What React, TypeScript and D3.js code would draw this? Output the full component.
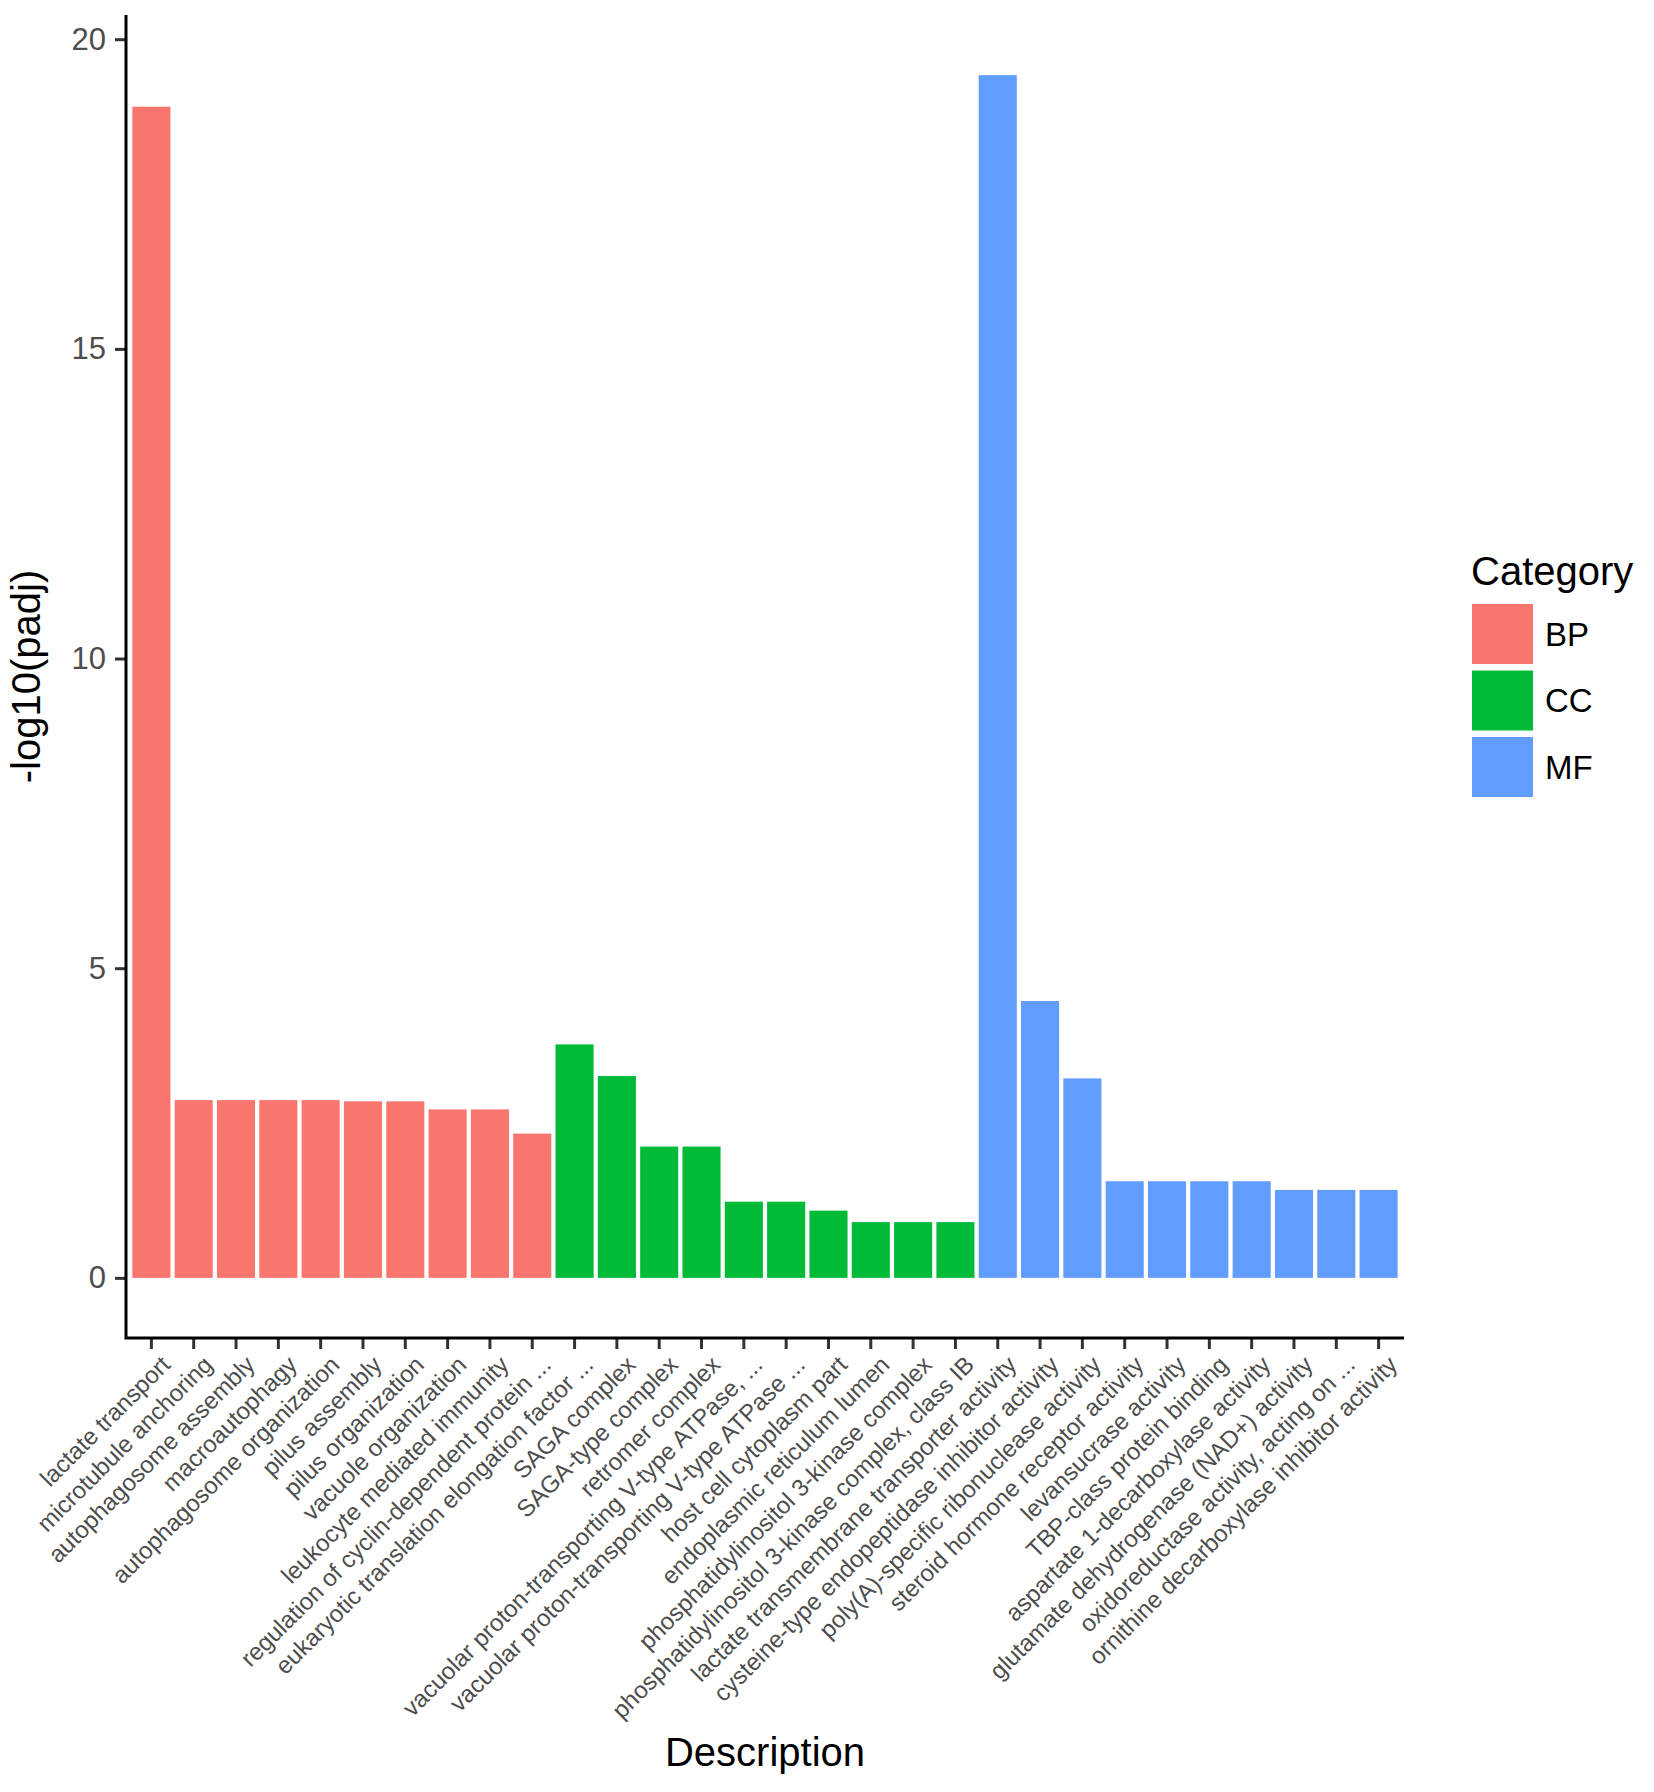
import React, { useRef, useEffect } from 'react';
import * as d3 from 'd3';

const descriptions = [
  'lactate transport',
  'microtubule anchoring',
  'autophagosome assembly',
  'macroautophagy',
  'autophagosome organization',
  'pilus assembly',
  'pilus organization',
  'vacuole organization',
  'leukocyte mediated immunity',
  'regulation of cyclin-dependent protein ...',
  'eukaryotic translation elongation factor ...',
  'SAGA complex',
  'SAGA-type complex',
  'retromer complex',
  'vacuolar proton-transporting V-type ATPase, ...',
  'vacuolar proton-transporting V-type ATPase ...',
  'host cell cytoplasm part',
  'endoplasmic reticulum lumen',
  'phosphatidylinositol 3-kinase complex',
  'phosphatidylinositol 3-kinase complex, class IB',
  'lactate transmembrane transporter activity',
  'cysteine-type endopeptidase inhibitor activity',
  'poly(A)-specific ribonuclease activity',
  'steroid hormone receptor activity',
  'levansucrase activity',
  'TBP-class protein binding',
  'aspartate 1-decarboxylase activity',
  'glutamate dehydrogenase (NAD+) activity',
  'oxidoreductase activity, acting on ...',
  'ornithine decarboxylase inhibitor activity',
];

const categoryOf = [
  'BP', 'BP', 'BP', 'BP', 'BP', 'BP', 'BP', 'BP', 'BP', 'BP',
  'CC', 'CC', 'CC', 'CC', 'CC', 'CC', 'CC', 'CC', 'CC', 'CC',
  'MF', 'MF', 'MF', 'MF', 'MF', 'MF', 'MF', 'MF', 'MF', 'MF',
];

const padjValues = [
  18.91, 2.87, 2.87, 2.87, 2.87, 2.85, 2.85, 2.72, 2.72, 2.33,
  3.77, 3.26, 2.12, 2.12, 1.23, 1.23, 1.085, 0.9, 0.9, 0.9,
  19.42, 4.47, 3.22, 1.56, 1.56, 1.56, 1.56, 1.42, 1.42, 1.42,
];

const categories = ['BP', 'CC', 'MF'];
const categoryColors = ['#F8766D', '#00BA38', '#619CFF'];
const yTicks = [0, 5, 10, 15, 20];

const FONT = '"Liberation Sans", Arial, sans-serif';

const App = () => {
  const ref = useRef(null);

  useEffect(() => {
    const svg = d3.select(ref.current);
    svg.selectAll('*').remove();

    const width = 1654;
    const height = 1792;
    svg.attr('width', width).attr('height', height);

    // panel box
    const left = 126;
    const right = 1404;
    const top = 15;
    const bottom = 1338;

    const data = descriptions.map((d, i) => ({
      name: d,
      cat: categoryOf[i],
      value: padjValues[i],
    }));

    const maxV = d3.max(padjValues) as number;
    const pad = maxV * 0.05;

    const x = d3
      .scaleBand()
      .domain(descriptions)
      .range([left, right])
      .paddingInner(0.1)
      .paddingOuter(0.15);

    const y = d3
      .scaleLinear()
      .domain([-pad, maxV + pad])
      .range([bottom, top]);

    const color = d3.scaleOrdinal<string, string>().domain(categories).range(categoryColors);

    // bars
    svg
      .append('g')
      .selectAll('rect')
      .data(data)
      .enter()
      .append('rect')
      .attr('x', (d) => x(d.name) as number)
      .attr('y', (d) => y(d.value))
      .attr('width', x.bandwidth())
      .attr('height', (d) => y(0) - y(d.value))
      .attr('fill', (d) => color(d.cat));

    // y axis
    const yAxis = svg
      .append('g')
      .attr('transform', `translate(${left},0)`)
      .call(d3.axisLeft(y).tickValues(yTicks).tickSize(11).tickPadding(9).tickSizeOuter(0));
    yAxis.select('.domain').remove();
    yAxis.selectAll('.tick line').attr('stroke', '#333').attr('stroke-width', 3);
    yAxis
      .selectAll('.tick text')
      .attr('fill', '#4d4d4d')
      .attr('font-size', 31)
      .style('font-family', FONT);

    // x axis
    const xAxis = svg
      .append('g')
      .attr('transform', `translate(0,${bottom})`)
      .call(d3.axisBottom(x).tickSize(11).tickSizeOuter(0));
    xAxis.select('.domain').remove();
    xAxis.selectAll('.tick line').attr('stroke', '#333').attr('stroke-width', 3);
    xAxis
      .selectAll('.tick text')
      .attr('fill', '#4d4d4d')
      .attr('font-size', 24)
      .style('font-family', FONT)
      .attr('text-anchor', 'end')
      .attr('x', 0)
      .attr('y', 0)
      .attr('dy', '0.72em')
      .attr('transform', 'translate(8,16) rotate(-45)');

    // axis lines
    svg
      .append('path')
      .attr('d', `M${left},${top}V${bottom}H${right}`)
      .attr('fill', 'none')
      .attr('stroke', '#000')
      .attr('stroke-width', 3);

    // axis titles
    svg
      .append('text')
      .text('Description')
      .attr('x', (left + right) / 2)
      .attr('y', 1766)
      .attr('text-anchor', 'middle')
      .attr('font-size', 40)
      .attr('fill', '#000')
      .style('font-family', FONT);

    svg
      .append('text')
      .text('-log10(padj)')
      .attr('transform', `translate(40,${(top + bottom) / 2}) rotate(-90)`)
      .attr('text-anchor', 'middle')
      .attr('font-size', 40)
      .attr('fill', '#000')
      .style('font-family', FONT);

    // legend
    const legend = svg.append('g').attr('transform', 'translate(1471,0)');
    legend
      .append('text')
      .text('Category')
      .attr('x', 0)
      .attr('y', 585)
      .attr('font-size', 40)
      .attr('fill', '#000')
      .style('font-family', FONT);

    const keys = legend
      .selectAll('g.key')
      .data(categories)
      .enter()
      .append('g')
      .attr('class', 'key')
      .attr('transform', (d, i) => `translate(0,${604 + i * 66.5})`);
    keys
      .append('rect')
      .attr('x', 1)
      .attr('y', 0)
      .attr('width', 61)
      .attr('height', 60)
      .attr('fill', (d) => color(d));
    keys
      .append('text')
      .text((d) => d)
      .attr('x', 74)
      .attr('y', 30)
      .attr('dy', '0.36em')
      .attr('font-size', 33)
      .attr('fill', '#000')
      .style('font-family', FONT);
  }, []);

  return (
    <svg
      ref={ref}
      style={{ position: 'absolute', left: 0, top: 0, background: '#fff' }}
    />
  );
};

export default App;
